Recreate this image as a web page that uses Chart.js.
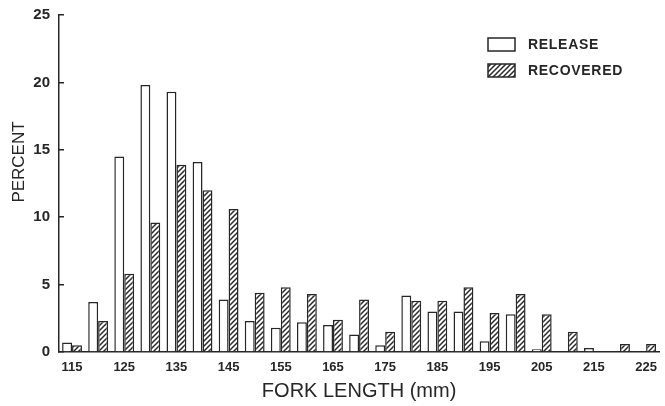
<!DOCTYPE html>
<html>
<head>
<meta charset="utf-8">
<script src="https://cdn.jsdelivr.net/npm/chart.js@4/dist/chart.umd.min.js"></script>
<style>
  html, body { margin: 0; padding: 0; background: #fff; }
  canvas { display: block; }
</style>
</head>
<body>
<canvas id="c" width="665" height="406"></canvas>
<script>
// Fork length classes (mm), 5 mm bins
const forkLengths = [115, 120, 125, 130, 135, 140, 145, 150, 155, 160, 165, 170,
                     175, 180, 185, 190, 195, 200, 205, 210, 215, 220, 225];
// Percent of fish in each length class
const releasePct   = [0.7, 3.7, 14.5, 19.8, 19.3, 14.1, 3.9, 2.3, 1.8, 2.2, 2.0, 1.3,
                      0.5, 4.2, 3.0, 3.0, 0.8, 2.8, 0.2, 0, 0.3, 0, 0];
const recoveredPct = [0.5, 2.3, 5.8, 9.6, 13.9, 12.0, 10.6, 4.4, 4.8, 4.3, 2.4, 3.9,
                      1.5, 3.8, 3.8, 4.8, 2.9, 4.3, 2.8, 1.5, 0, 0.6, 0.6];
const seriesNames = ['RELEASE', 'RECOVERED'];
const yTicks = [0, 5, 10, 15, 20, 25];
const yTitle = 'PERCENT';
const xTitle = 'FORK LENGTH (mm)';

const INK = '#262626';
const FONT = '"Liberation Sans", Arial, Helvetica, sans-serif';
const NARROW = '"Liberation Sans Narrow", "Liberation Sans", Arial, sans-serif';

const canvas = document.getElementById('c');
const ctx = canvas.getContext('2d');

// diagonal "/" hatch used for the recovered bars
function makeHatch() {
  const s = 5;
  const tile = document.createElement('canvas');
  tile.width = s; tile.height = s;
  const g = tile.getContext('2d');
  g.fillStyle = '#fff';
  g.fillRect(0, 0, s, s);
  g.strokeStyle = '#2a2a2a';
  g.lineWidth = 1.5;
  g.beginPath();
  g.moveTo(-1, s + 1); g.lineTo(s + 1, -1);
  g.moveTo(-1, 1); g.lineTo(1, -1);
  g.moveTo(s - 1, s + 1); g.lineTo(s + 1, s - 1);
  g.stroke();
  return ctx.createPattern(tile, 'repeat');
}
const hatch = makeHatch();

// key in the upper right corner, stacked vertically
const cornerKey = {
  id: 'cornerKey',
  afterDraw(chart) {
    const c = chart.ctx;
    const x = 488, w = 27, h = 13;
    const rows = [38, 64];
    chart.data.datasets.forEach((ds, i) => {
      const y = rows[i];
      c.save();
      c.fillStyle = ds.backgroundColor;
      c.fillRect(x, y, w, h);
      c.strokeStyle = INK;
      c.lineWidth = 1.5;
      c.strokeRect(x, y, w, h);
      c.font = 'bold 14px ' + FONT;
      c.letterSpacing = '0.7px';
      c.fillStyle = INK;
      c.textBaseline = 'middle';
      c.textAlign = 'left';
      c.fillText(ds.label, 528, y + h / 2 + 1);
      c.restore();
    });
  }
};

// rotated value-axis title, set a little above the middle of the axis
const sideTitle = {
  id: 'sideTitle',
  afterDraw(chart) {
    const c = chart.ctx;
    c.save();
    c.translate(19, 162);
    c.rotate(-Math.PI / 2);
    c.font = '17px ' + FONT;
    c.fillStyle = INK;
    c.textAlign = 'center';
    c.textBaseline = 'middle';
    c.fillText(yTitle, 0, 0);
    c.restore();
  }
};

new Chart(ctx, {
  type: 'bar',
  data: {
    labels: forkLengths,
    datasets: [
      {
        label: seriesNames[0],
        data: releasePct,
        backgroundColor: '#ffffff',
        borderColor: INK,
        borderWidth: 1.5,
        borderSkipped: 'start'
      },
      {
        label: seriesNames[1],
        data: recoveredPct,
        backgroundColor: hatch,
        borderColor: INK,
        borderWidth: 1.5,
        borderSkipped: 'start'
      }
    ]
  },
  options: {
    responsive: false,
    animation: false,
    events: [],
    categoryPercentage: 0.76,
    barPercentage: 1.0,
    layout: { padding: { top: 15, right: 2, bottom: 0, left: 0 } },
    plugins: {
      legend: { display: false },
      tooltip: { enabled: false }
    },
    scales: {
      x: {
        type: 'category',
        afterFit: (axis) => { axis.height = 54; },
        grid: { display: false, drawTicks: false },
        border: { display: true, color: INK, width: 1.5 },
        ticks: {
          autoSkip: false,
          maxRotation: 0,
          minRotation: 0,
          padding: 8,
          color: INK,
          font: { family: NARROW, size: 13, weight: 'bold' },
          callback: (v, i) => (i % 2 === 0 ? String(forkLengths[i]) : '')
        },
        title: {
          display: true,
          text: xTitle,
          color: INK,
          font: { family: FONT, size: 20 },
          padding: { top: 2, bottom: 3 }
        }
      },
      y: {
        min: 0,
        max: 25,
        afterFit: (axis) => {
          axis.width = 59;
          axis.paddingTop = 0;
          axis.paddingBottom = 0;
        },
        afterBuildTicks: (axis) => { axis.ticks = yTicks.map(v => ({ value: v })); },
        grid: {
          drawOnChartArea: false,
          drawTicks: true,
          tickLength: -5,
          color: INK,
          lineWidth: 1.5
        },
        border: { display: true, color: INK, width: 1.5 },
        ticks: {
          padding: 14,
          color: INK,
          font: { family: FONT, size: 15, weight: 'bold' }
        },
        title: { display: false }
      }
    }
  },
  plugins: [cornerKey, sideTitle]
});
</script>
</body>
</html>
